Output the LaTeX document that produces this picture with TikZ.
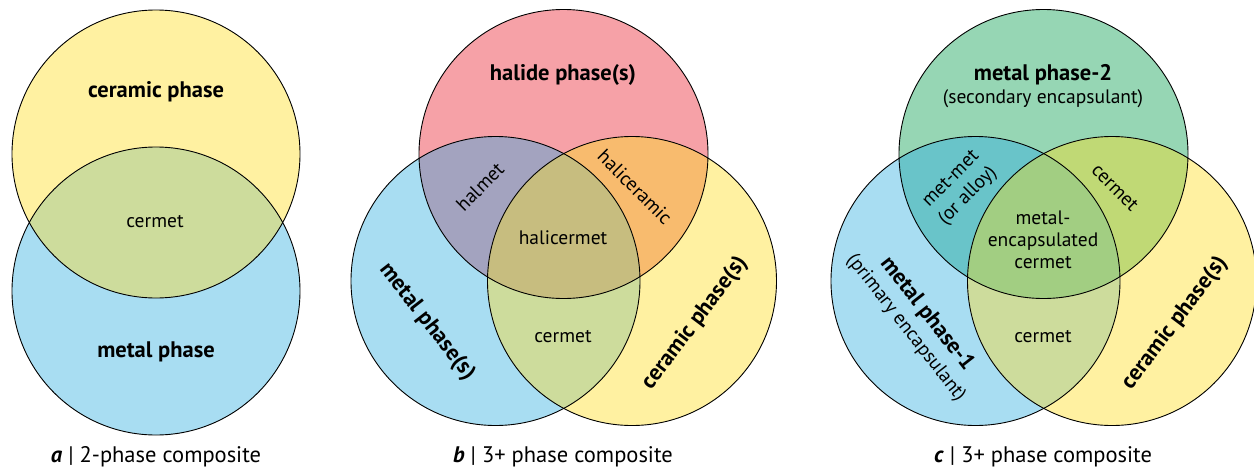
\documentclass[tikz,border=0pt]{standalone}
\usepackage{fontspec}
\setmainfont{PT Sans}
\definecolor{ceramicyellow}{HTML}{FFF1A1}
\definecolor{metalblue}{HTML}{A8DDF2}
\definecolor{cermetgreen}{HTML}{CDDC9C}
\definecolor{halidepink}{HTML}{F6A1A7}
\definecolor{halmetgray}{HTML}{A3A3BF}
\definecolor{haliorange}{HTML}{F8BB6E}
\definecolor{halicermetolive}{HTML}{C7BD7F}
\definecolor{metaltwogreen}{HTML}{96D6B4}
\definecolor{metmetteal}{HTML}{69C4C9}
\definecolor{topcermetlime}{HTML}{C0D975}
\definecolor{encapgreen}{HTML}{A2CE82}
\tikzset{
  phasename/.style={font=\fontsize{22.5}{24}\selectfont\bfseries, align=center},
  regionname/.style={font=\fontsize{19.5}{22}\selectfont, align=center},
  subname/.style={font=\fontsize{19.5}{24}\selectfont, align=center},
  captiontext/.style={font=\fontsize{22.5}{25}\selectfont},
  rim/.style={line width=0.9pt}
}
\begin{document}
\begin{tikzpicture}[x=1pt,y=-1pt]
    \useasboundingbox (0,0) rectangle (1254,469);

    % panel a
    \def\aTop{(156,154) circle[radius=144pt]}
    \def\aBot{(156,291) circle[radius=144pt]}
    \path [fill=ceramicyellow] \aTop;
    \path [fill=metalblue] \aBot;
    \begin{scope}
      \clip \aTop;
      \path [fill=cermetgreen] \aBot;
    \end{scope}
    \draw [rim] \aTop;
    \draw [rim] \aBot;
    \node [phasename] (aceramic) at (156,92) {ceramic phase};
    \node [regionname] (acermet) at (155,222) {cermet};
    \node [phasename] (ametal) at (156,352) {metal phase};
    \node [captiontext] (acap) at (156,457) {\textbf{\textit{a}} | 2-phase composite};

    % panel b
    \def\bTop{(563.5,154) circle[radius=144.5pt]}
    \def\bLeft{(495.5,281) circle[radius=144.5pt]}
    \def\bRight{(632,281) circle[radius=144.5pt]}
    \path [fill=halidepink] \bTop;
    \path [fill=metalblue] \bLeft;
    \path [fill=ceramicyellow] \bRight;
    \begin{scope}
      \clip \bTop;
      \path [fill=halmetgray] \bLeft;
      \path [fill=haliorange] \bRight;
    \end{scope}
    \begin{scope}
      \clip \bLeft;
      \path [fill=cermetgreen] \bRight;
      \clip \bTop;
      \path [fill=halicermetolive] \bRight;
    \end{scope}
    \draw [rim] \bTop;
    \draw [rim] \bLeft;
    \draw [rim] \bRight;
    \node [phasename] (bhalide) at (563,75) {halide phase(s)};
    \node [regionname, rotate=45] (bhalmet) at (480,187) {halmet};
    \node [regionname, rotate=-45] (bhaliceramic) at (635,187) {haliceramic};
    \node [regionname] (bhalicermet) at (563,238) {halicermet};
    \node [regionname] (bcermet) at (563,337) {cermet};
    \node [phasename, rotate=-52] (bmetal) at (427,322) {metal phase(s)};
    \node [phasename, rotate=53] (bceramic) at (695,323) {ceramic phase(s)};
    \node [captiontext] (bcap) at (563,457) {\textbf{\textit{b}} | 3+ phase composite};

    % panel c
    \def\cTop{(1043.5,154) circle[radius=144.5pt]}
    \def\cLeft{(975.5,281) circle[radius=144.5pt]}
    \def\cRight{(1112,281) circle[radius=144.5pt]}
    \path [fill=metaltwogreen] \cTop;
    \path [fill=metalblue] \cLeft;
    \path [fill=ceramicyellow] \cRight;
    \begin{scope}
      \clip \cTop;
      \path [fill=metmetteal] \cLeft;
      \path [fill=topcermetlime] \cRight;
    \end{scope}
    \begin{scope}
      \clip \cLeft;
      \path [fill=cermetgreen] \cRight;
      \clip \cTop;
      \path [fill=encapgreen] \cRight;
    \end{scope}
    \draw [rim] \cTop;
    \draw [rim] \cLeft;
    \draw [rim] \cRight;
    \node [phasename] (cmetaltwo) at (1043,75) {metal phase-2};
    \node [subname] (csecondary) at (1043,99) {(secondary encapsulant)};
    \node [subname, rotate=45] (cmetmet) at (960,188) {met-met\\(or alloy)};
    \node [regionname, rotate=-45] (ctopcermet) at (1115,188) {cermet};
    \node [regionname] (cencap) at (1043,240) {metal-\\encapsulated\\cermet};
    \node [regionname] (ccermet) at (1043,337) {cermet};
    \node [phasename, rotate=-52] (cmetalone) at (927,314) {metal phase-1};
    \node [subname, rotate=-52] (cprimary) at (906,328) {(primary encapsulant)};
    \node [phasename, rotate=53] (cceramic) at (1175,323) {ceramic phase(s)};
    \node [captiontext] (ccap) at (1043,457) {\textbf{\textit{c}} | 3+ phase composite};
\end{tikzpicture}
\end{document}
